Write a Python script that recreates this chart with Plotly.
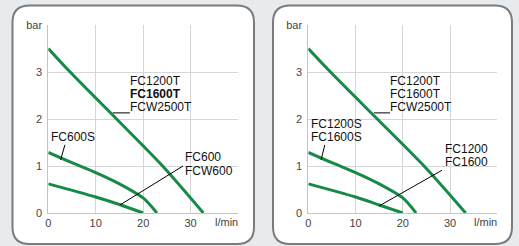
import plotly.graph_objects as go

W, H = 519, 246

# ---- data ----
x_ticks = [0, 10, 20, 30, 40]
x_ticktext = ["0", "10", "20", "30", ""]
y_ticks = [0, 1, 2, 3, 4]
y_ticktext = ["0", "1", "2", "3", "bar"]

# left panel curves (flow l/min, pressure bar)
L_big_x = [0, 4.6, 14.4, 24.1, 32.7]
L_big_y = [3.5, 3.0, 2.0, 1.0, 0.0]
L_mid_x = [0, 5, 10, 15, 20, 22.9]
L_mid_y = [1.29, 1.07, 0.86, 0.62, 0.32, 0.0]
L_low_x = [0, 10, 15, 20]
L_low_y = [0.62, 0.34, 0.18, 0.0]

# right panel curves
R_big_x = [0, 4.7, 14.6, 24.5, 33.3]
R_big_y = [3.5, 3.0, 2.0, 1.0, 0.0]
R_mid_x = [0, 5, 10, 15, 20, 22.8]
R_mid_y = [1.29, 1.07, 0.86, 0.62, 0.32, 0.0]
R_low_x = [0, 10, 15, 20]
R_low_y = [0.62, 0.34, 0.17, 0.0]

L_labels = ["FC1200T", "<b>FC1600T</b>", "FCW2500T", "FC600S", "FC600", "FCW600"]
R_labels = ["FC1200T", "FC1600T", "FCW2500T", "FC1200S", "FC1600S", "FC1200", "FC1600"]

GREEN = "#178a48"
FONT = "Liberation Sans, Arial, sans-serif"

fig = go.Figure()

def px_x(p):
    return p / W

def px_y(p):
    return 1 - p / H

for xs, ys in [(L_big_x, L_big_y), (L_mid_x, L_mid_y), (L_low_x, L_low_y)]:
    fig.add_trace(go.Scatter(x=xs, y=ys, mode="lines", xaxis="x", yaxis="y",
                             line=dict(color=GREEN, width=3, shape="spline", smoothing=0.8),
                             showlegend=False, hoverinfo="skip"))
for xs, ys in [(R_big_x, R_big_y), (R_mid_x, R_mid_y), (R_low_x, R_low_y)]:
    fig.add_trace(go.Scatter(x=xs, y=ys, mode="lines", xaxis="x2", yaxis="y2",
                             line=dict(color=GREEN, width=3, shape="spline", smoothing=0.8),
                             showlegend=False, hoverinfo="skip"))

axis_common = dict(range=[0, 40], tickvals=x_ticks, ticktext=x_ticktext, showgrid=True,
                   gridcolor="#d6d6d6", gridwidth=1, showline=True, linecolor="#c4c4c4",
                   linewidth=1, zeroline=False, ticks="", fixedrange=True, automargin=False,
                   tickfont=dict(family=FONT, size=11, color="#444"))
yaxis_common = dict(range=[0, 4], tickvals=y_ticks, ticktext=y_ticktext, showgrid=True,
                    gridcolor="#d6d6d6", gridwidth=1, showline=True, linecolor="#c4c4c4",
                    linewidth=1, zeroline=False, ticks="", fixedrange=True, automargin=False,
                    ticklabelstandoff=3,
                    tickfont=dict(family=FONT, size=11, color="#444"))

fig.update_layout(
    width=W, height=H, autosize=False,
    margin=dict(l=0, r=0, t=0, b=0, autoexpand=False),
    paper_bgcolor="#e8ebee",
    plot_bgcolor="rgba(0,0,0,0)",
    xaxis=dict(domain=[px_x(48.3), px_x(238)], anchor="y", **axis_common),
    yaxis=dict(domain=[px_y(213), px_y(25)], anchor="x", **yaxis_common),
    xaxis2=dict(domain=[px_x(308.3), px_x(497.3)], anchor="y2", **axis_common),
    yaxis2=dict(domain=[px_y(213), px_y(25)], anchor="x2", **yaxis_common),
)

# rounded panels
def rounded(x0, y0, x1, y1, r):
    X0, X1 = px_x(x0), px_x(x1)
    Y0, Y1 = px_y(y0), px_y(y1)
    rx, ry = r / W, r / H
    return (f"M {X0+rx},{Y0} L {X1-rx},{Y0} Q {X1},{Y0} {X1},{Y0-ry} "
            f"L {X1},{Y1+ry} Q {X1},{Y1} {X1-rx},{Y1} L {X0+rx},{Y1} "
            f"Q {X0},{Y1} {X0},{Y1+ry} L {X0},{Y0-ry} Q {X0},{Y0} {X0+rx},{Y0} Z")

shapes = []
for (a, b) in [(12.5, 254), (273, 512)]:
    shapes.append(dict(type="path", xref="paper", yref="paper", path=rounded(a, 5.5, b, 244, 17),
                       fillcolor="white", line=dict(color="#7b7b7b", width=2), layer="below"))

def leader(xr, yr, x0, y0, x1, y1):
    return dict(type="line", xref=xr, yref=yr, x0=x0, y0=y0, x1=x1, y1=y1,
                line=dict(color="black", width=1), layer="above")

# left panel leaders
shapes.append(leader("x", "y", 13.6, 2.13, 17.2, 2.13))
shapes.append(leader("x", "y", 3.5, 1.45, 2.6, 1.13))
shapes.append(leader("x", "y", 28.4, 1.0, 15.1, 0.17))
# right panel leaders
shapes.append(leader("x2", "y2", 13.9, 2.13, 17.3, 2.13))
shapes.append(leader("x2", "y2", 3.5, 1.45, 2.7, 1.13))
shapes.append(leader("x2", "y2", 28.3, 0.91, 15.0, 0.15))

fig.update_layout(shapes=shapes)

ann = []
def lab(xr, yr, x, y, t):
    ann.append(dict(xref=xr, yref=yr, x=x, y=y, text=t, showarrow=False, xanchor="left",
                    yanchor="middle", borderpad=0,
                    font=dict(family=FONT, size=12, color="#111")))

lab("x", "y", 17.0, 2.80, L_labels[0])
lab("x", "y", 17.0, 2.525, L_labels[1])
lab("x", "y", 17.0, 2.25, L_labels[2])
lab("x", "y", 0.45, 1.62, L_labels[3])
lab("x", "y", 28.6, 1.185, L_labels[4])
lab("x", "y", 28.6, 0.90, L_labels[5])

lab("x2", "y2", 17.1, 2.80, R_labels[0])
lab("x2", "y2", 17.1, 2.525, R_labels[1])
lab("x2", "y2", 17.1, 2.25, R_labels[2])
lab("x2", "y2", 0.45, 1.895, R_labels[3])
lab("x2", "y2", 0.45, 1.62, R_labels[4])
lab("x2", "y2", 28.7, 1.36, R_labels[5])
lab("x2", "y2", 28.7, 1.075, R_labels[6])

for xr in ["x", "x2"]:
    ann.append(dict(xref=xr, yref="paper", x=37.5, y=px_y(222), text="l/min", showarrow=False,
                    xanchor="center", yanchor="middle",
                    font=dict(family=FONT, size=11, color="#444")))

fig.update_layout(annotations=ann)

fig.write_html("out.html", config={"displayModeBar": False},
               post_script="document.body.style.margin='0';document.body.style.background='#e8ebee';")
